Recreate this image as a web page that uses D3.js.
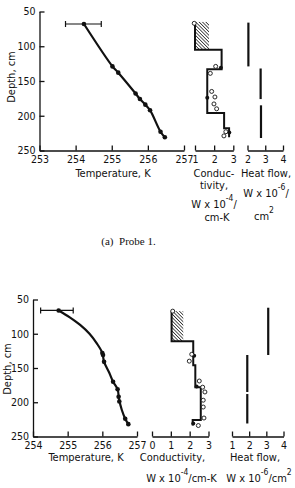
<!DOCTYPE html>
<html>
<head>
<meta charset="utf-8">
<script src="https://cdn.jsdelivr.net/npm/d3@7"></script>
<style>
body { margin: 0; background: #fff; }
text { font-family: "Liberation Sans Narrow", "DejaVu Sans Condensed", "Arial Narrow", sans-serif; fill: #111; }
.caption { font-family: "Liberation Serif", "DejaVu Serif", serif; white-space: pre; }
</style>
</head>
<body>
<svg id="fig"></svg>
<script>
window.onload = function(){
    makeCharts();
};

const WIDTH = 295;
const HEIGHT = 488;

const depthTicks = [50, 100, 150, 200, 250];

// Probe 1 - temperature [K, depth cm]
const temp1Ticks = [253, 254, 255, 256, 257];
const temp1Points = [[254.23, 68], [255.02, 129], [255.18, 138], [255.66, 168], [255.78, 176],
                     [255.93, 184], [256.06, 192], [256.35, 223], [256.47, 231]];
const temp1Error = [253.72, 254.71, 68];
// Probe 1 - conductivity
const cond1Ticks = [1, 2, 3];
const cond1Hatch = [1.0, 1.73, 65, 105];
const cond1Step = [[1.0, 65], [1.0, 105], [2.39, 105], [2.39, 133], [1.64, 133], [1.64, 196],
                   [2.52, 196], [2.52, 218], [2.78, 218], [2.78, 231]];
const cond1Open = [[0.96, 67], [2.08, 129], [1.80, 139], [1.87, 165], [2.04, 173], [1.99, 183],
                   [2.13, 190], [2.61, 223], [2.51, 229]];
const cond1Filled = [[2.35, 131], [1.64, 174], [2.79, 224]];
// Probe 1 - heat flow [value, depth top, depth bottom]
const heat1Ticks = [2, 3, 4];
const heat1Segments = [[2.05, 66, 129], [2.74, 132, 176], [2.76, 185, 232]];

// Probe 2 - temperature
const temp2Ticks = [254, 255, 256, 257];
const temp2Points = [[254.74, 66], [256.0, 128], [256.02, 131], [256.05, 141], [256.31, 170],
                     [256.44, 181], [256.47, 192], [256.49, 199], [256.66, 224], [256.75, 232]];
const temp2Curve = [[254.74, 66], [255.06, 76], [255.36, 87], [255.63, 100], [255.84, 114],
                    [256.0, 128], [256.05, 141], [256.2, 157], [256.31, 170], [256.44, 181],
                    [256.48, 195], [256.56, 211], [256.66, 224], [256.75, 232]];
const temp2Error = [254.22, 255.16, 66];
// Probe 2 - conductivity
const cond2Ticks = [0, 1, 2, 3];
const cond2Hatch = [1.04, 1.66, 67, 111];
const cond2Step = [[1.04, 67], [1.04, 111], [2.19, 111], [2.19, 146], [2.3, 146], [2.3, 178],
                   [2.59, 178], [2.59, 226], [2.16, 226], [2.16, 234]];
const cond2Open = [[1.1, 67], [2.11, 130], [1.98, 140], [2.51, 169], [2.69, 178], [2.81, 185],
                   [2.72, 197], [2.72, 207], [2.76, 223], [2.46, 234]];
const cond2Filled = [[2.24, 132], [2.37, 177], [2.19, 231]];
// Probe 2 - heat flow
const heat2Ticks = [1, 2, 3, 4];
const heat2Segments = [[3.11, 62, 131], [1.89, 131, 185], [1.89, 188, 231]];


function makeCharts(){
    let svg = d3.select('#fig')
                .attr('width', WIDTH)
                .attr('height', HEIGHT);

    // hatch pattern for the shaded conductivity block
    svg.append('defs').append('pattern')
        .attr('id', 'hatch')
        .attr('patternUnits', 'userSpaceOnUse')
        .attr('width', 2.4).attr('height', 2.4)
        .attr('patternTransform', 'rotate(-45)')
        .append('line')
        .attr('x1', 0).attr('y1', 0).attr('x2', 0).attr('y2', 2.4)
        .style('stroke', '#222')
        .style('stroke-width', 1.5);

    drawPanel(svg, {
        yRange: [11.5, 150.5],
        temp: [253, 257], tempRange: [39.5, 184], tempTicks: temp1Ticks,
        tempPoints: temp1Points, tempCurve: temp1Points, tempError: temp1Error,
        cond: [1, 3], condRange: [195, 233.3], condTicks: cond1Ticks,
        hatch: cond1Hatch, step: cond1Step, open: cond1Open, filled: cond1Filled,
        heat: [2, 4], heatRange: [247.5, 283], heatTicks: heat1Ticks, segments: heat1Segments,
        depthLabel: [11, 77]
    });

    drawPanel(svg, {
        yRange: [299.5, 436.5],
        temp: [254, 257], tempRange: [33, 137], tempTicks: temp2Ticks,
        tempPoints: temp2Points, tempCurve: temp2Curve, tempError: temp2Error,
        cond: [0, 3], condRange: [152, 208.5], condTicks: cond2Ticks,
        hatch: cond2Hatch, step: cond2Step, open: cond2Open, filled: cond2Filled,
        heat: [1, 4], heatRange: [232, 283.5], heatTicks: heat2Ticks, segments: heat2Segments,
        depthLabel: [7.5, 369]
    });

    // axis titles, probe 1
    let base1 = 150.5;
    title(svg, 113, base1 + 26.5, [['Temperature, K']]);
    title(svg, 214, base1 + 26.5, [['Conduc-']]);
    title(svg, 214, base1 + 38.5, [['tivity,']]);
    title(svg, 214, base1 + 57, [['W x 10'], ['-4', true], ['/']]);
    title(svg, 217, base1 + 70.5, [['cm-K']]);
    title(svg, 266, base1 + 26.5, [['Heat flow,']]);
    title(svg, 266, base1 + 46.5, [['W x 10'], ['-6', true], ['/']]);
    title(svg, 264, base1 + 69, [['cm'], ['2', true]]);

    svg.append('text')
        .attr('class', 'caption')
        .attr('x', 128.5).attr('y', 245)
        .attr('text-anchor', 'middle')
        .style('font-size', '11px')
        .text('(a)  Probe 1.');

    // axis titles, probe 2
    let base2 = 436.5;
    title(svg, 86, base2 + 24.5, [['Temperature, K']]);
    title(svg, 172.5, base2 + 24.5, [['Conductivity,']]);
    title(svg, 181.5, base2 + 45.5, [['W x 10'], ['-4', true], ['/cm-K']]);
    title(svg, 255, base2 + 24.5, [['Heat flow,']]);
    title(svg, 259, base2 + 45.5, [['W x 10'], ['-6', true], ['/cm'], ['2', true]]);
}


function title(svg, x, y, parts){
    let t = svg.append('text')
        .attr('x', x).attr('y', y)
        .attr('text-anchor', 'middle')
        .style('font-size', '11px');
    let up = false;
    parts.forEach(p => {
        let s = t.append('tspan').text(p[0]);
        if (p[1] && !up) { s.attr('dy', -7).style('font-size', '8.5px'); up = true; }
        else if (!p[1] && up) { s.attr('dy', 7); up = false; }
        else if (p[1]) { s.style('font-size', '8.5px'); }
    });
}


function drawPanel(svg, c){
    const y = d3.scaleLinear().domain([50, 250]).range(c.yRange);
    const xT = d3.scaleLinear().domain(c.temp).range(c.tempRange);
    const xK = d3.scaleLinear().domain(c.cond).range(c.condRange);
    const xQ = d3.scaleLinear().domain(c.heat).range(c.heatRange);
    const bottom = c.yRange[1];
    const g = svg.append('g');
    const fmt = d3.format('d');

    const styleAxis = a => {
        a.selectAll('path, line').style('stroke', '#111').style('stroke-width', 1.3);
        a.selectAll('text').style('font-size', '10.5px').style('font-family', null);
    };

    // depth axis
    g.append('g')
        .attr('transform', `translate(${c.tempRange[0]},0)`)
        .call(d3.axisLeft(y).tickValues(depthTicks).tickFormat(fmt)
              .tickSizeInner(-5).tickSizeOuter(0).tickPadding(4))
        .call(styleAxis);

    // bottom axes
    [[xT, c.tempTicks], [xK, c.condTicks], [xQ, c.heatTicks]].forEach(([sc, ticks]) => {
        g.append('g')
            .attr('transform', `translate(0,${bottom})`)
            .call(d3.axisBottom(sc).tickValues(ticks).tickFormat(fmt)
                  .tickSizeInner(-5).tickSizeOuter(0).tickPadding(5))
            .call(styleAxis);
    });

    g.selectAll('.domain').attr('fill', 'none');

    g.append('text')
        .attr('transform', `translate(${c.depthLabel[0]},${c.depthLabel[1]}) rotate(-90)`)
        .attr('text-anchor', 'middle')
        .attr('dy', '0.35em')
        .style('font-size', '11px')
        .text('Depth, cm');

    // temperature profile
    const tLine = d3.line().x(d => xT(d[0])).y(d => y(d[1])).curve(d3.curveCatmullRom);
    g.append('path')
        .datum(c.tempCurve)
        .attr('d', tLine)
        .style('fill', 'none')
        .style('stroke', '#111')
        .style('stroke-width', 2.2);

    g.selectAll('.tdot')
        .data(c.tempPoints)
        .enter()
        .append('circle')
        .attr('cx', d => xT(d[0]))
        .attr('cy', d => y(d[1]))
        .attr('r', 2.3)
        .style('fill', '#111');

    // error bar on the first reading
    const e = c.tempError;
    const eb = g.append('g').style('stroke', '#111').style('stroke-width', 1.2);
    eb.append('line').attr('x1', xT(e[0])).attr('x2', xT(e[1])).attr('y1', y(e[2])).attr('y2', y(e[2]));
    [e[0], e[1]].forEach(v => {
        eb.append('line').attr('x1', xT(v)).attr('x2', xT(v)).attr('y1', y(e[2]) - 3).attr('y2', y(e[2]) + 3);
    });

    // conductivity
    const h = c.hatch;
    g.append('rect')
        .attr('x', xK(h[0]))
        .attr('y', y(h[2]))
        .attr('width', xK(h[1]) - xK(h[0]))
        .attr('height', y(h[3]) - y(h[2]))
        .style('fill', 'url(#hatch)');

    const kLine = d3.line().x(d => xK(d[0])).y(d => y(d[1]));
    g.append('path')
        .datum(c.step)
        .attr('d', kLine)
        .style('fill', 'none')
        .style('stroke', '#111')
        .style('stroke-width', 2);

    g.selectAll('.kfill')
        .data(c.filled)
        .enter()
        .append('circle')
        .attr('cx', d => xK(d[0]))
        .attr('cy', d => y(d[1]))
        .attr('r', 2)
        .style('fill', '#111');

    g.selectAll('.kopen')
        .data(c.open)
        .enter()
        .append('circle')
        .attr('cx', d => xK(d[0]))
        .attr('cy', d => y(d[1]))
        .attr('r', 2)
        .style('fill', '#fff')
        .style('stroke', '#111')
        .style('stroke-width', 0.9);

    // heat flow
    g.selectAll('.qseg')
        .data(c.segments)
        .enter()
        .append('line')
        .attr('x1', d => xQ(d[0]))
        .attr('x2', d => xQ(d[0]))
        .attr('y1', d => y(d[1]))
        .attr('y2', d => y(d[2]))
        .style('stroke', '#111')
        .style('stroke-width', 2.2);
}
</script>
</body>
</html>
